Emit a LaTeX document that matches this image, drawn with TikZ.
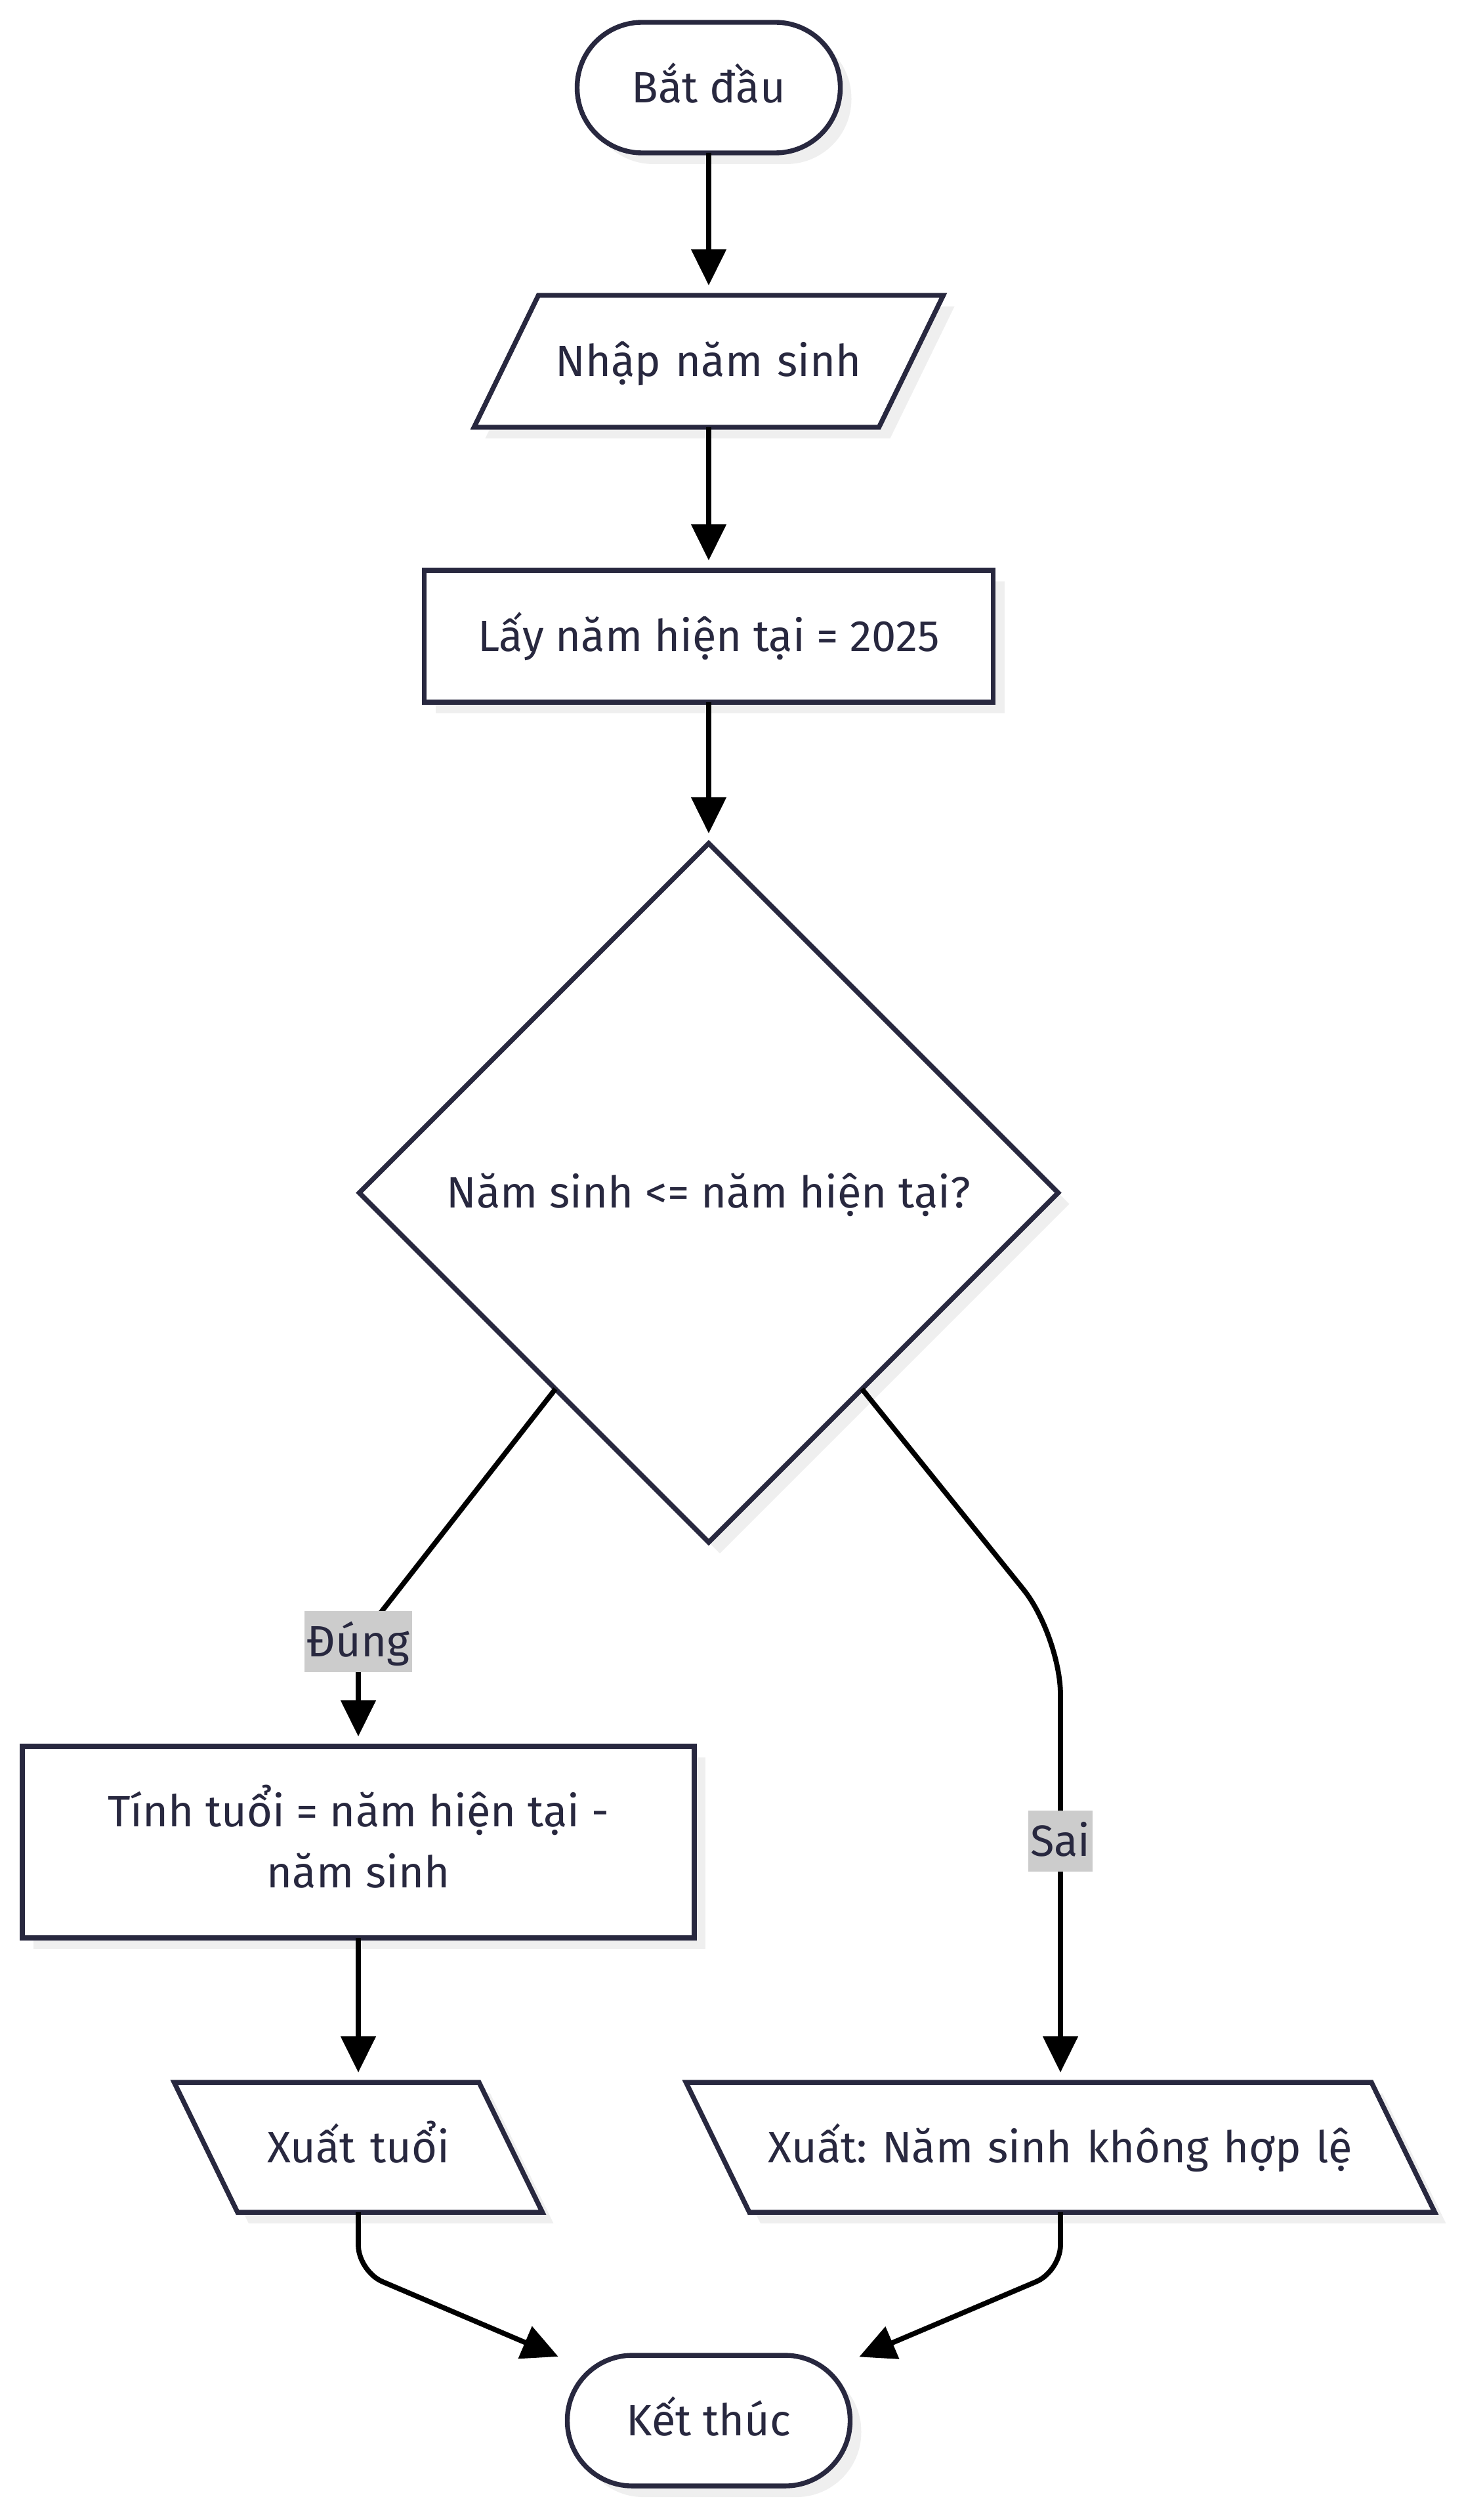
\documentclass[tikz,border=0pt]{standalone}
\usepackage{fontspec}
\setmainfont{Fira Sans}
\frenchspacing
\usetikzlibrary{positioning,arrows.meta,calc,shapes.geometric,shadows}
\definecolor{inkC}{HTML}{28283F}
\definecolor{shadeC}{HTML}{EFEFEF}
\definecolor{tagC}{HTML}{CCCCCC}

\begin{document}
\begin{tikzpicture}[
  >={Triangle[length=0.55cm, width=0.52cm]},
  every node/.style={font=\fontsize{19}{26.5}\selectfont, text=inkC, outer sep=0pt,
                     text height=0.46cm, text depth=0cm},
  flatshadow/.style={drop shadow={shadow xshift=0.17cm, shadow yshift=-0.17cm,
                     fill=shadeC, opacity=1, draw=none}},
  terminal/.style={draw=inkC, fill=white, line width=2.1pt, rounded corners=0.99cm,
                   minimum width=#1, minimum height=1.99cm, flatshadow},
  procbox/.style={draw=inkC, fill=white, line width=2.1pt, rectangle,
                  minimum width=#1, minimum height=2.01cm, align=center, flatshadow},
  inbox/.style={trapezium, draw=inkC, fill=white, line width=2.1pt,
                trapezium left angle=64, trapezium right angle=116,
                text width=#1, align=center, inner xsep=0pt, inner ysep=0.775cm,
                flatshadow},
  outbox/.style={trapezium, draw=inkC, fill=white, line width=2.1pt,
                 trapezium left angle=116, trapezium right angle=64,
                 text width=#1, align=center, inner xsep=0pt, inner ysep=0.76cm,
                 flatshadow},
  decision/.style={diamond, aspect=1, draw=inkC, fill=white, line width=2.1pt,
                   minimum size=10.65cm, inner sep=0pt, flatshadow},
  edge/.style={->, black, line width=2.2pt, shorten >=0.15cm},
  elabel/.style={fill=tagC, sharp corners, inner xsep=1pt, inner ysep=0pt,
                 minimum height=0.93cm},
]
\useasboundingbox (0,0) rectangle (22.3,-38.4);

% ── Main column ──
\node[terminal=4.01cm] (start) at (10.80,-1.335) {Bắt đầu};
\node[inbox=5.19cm, below=2.17 of start] (inp) {Nhập năm sinh};
\node[procbox=8.67cm, below=2.18 of inp] (now) {Lấy năm hiện tại = 2025};
\node[decision, below=2.15 of now] (dec) {Năm sinh <= năm hiện tại?};

% ── Branches ──
\node[procbox=10.24cm, minimum height=2.92cm, text height=1.39cm,
      below=3.11 of dec, xshift=-5.34cm] (calc)
  {Tính tuổi = năm hiện tại -\\năm sinh};
\node[outbox=3.68cm, below=2.20 of calc] (outAge) {Xuất tuổi};
\node[outbox=9.48cm, below=8.23 of dec, xshift=5.36cm] (outErr)
  {Xuất: Năm sinh không hợp lệ};

% ── End ──
\node[terminal=4.31cm, below=12.39 of dec] (stop) {Kết thúc};

% ── Arrows ──
\draw[edge] (start) -- (inp);
\draw[edge] (inp) -- (now);
\draw[edge] (now) -- (dec);
\draw[edge, rounded corners=0.3cm] (dec.232) -- ($(calc.north)+(0,1.6)$)
  node[elabel] {Đúng} -- (calc.north);
\draw[edge, rounded corners=0.9cm] (dec.308) -- ($(outErr.north)+(0,6.81)$)
  -- node[elabel, pos=0.46] {Sai} (outErr.north);
\draw[edge] (calc) -- (outAge);
\draw[edge, rounded corners=0.4cm] (outAge.south) -- ++(0,-0.9) -- (stop);
\draw[edge, rounded corners=0.4cm] (outErr.south) -- ++(0,-0.9) -- (stop);

\end{tikzpicture}
\end{document}
